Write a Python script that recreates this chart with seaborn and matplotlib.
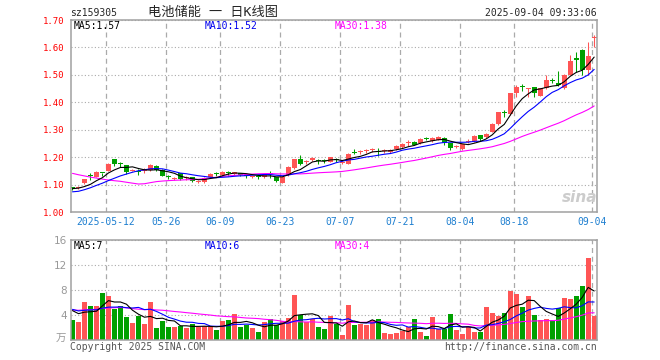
import matplotlib
matplotlib.use("Agg")
import matplotlib.pyplot as plt
import seaborn as sns
import numpy as np
import pandas as pd

# sz159305 daily K, 2025-04-29 .. 2025-09-04 (88 sessions)
opens = [1.088, 1.088, 1.105, 1.132, 1.129, 1.142, 1.150, 1.192, 1.176, 1.172,
         1.150, 1.146, 1.150, 1.153, 1.168, 1.153, 1.128, 1.122, 1.141, 1.123,
         1.127, 1.110, 1.108, 1.127, 1.140, 1.135, 1.142, 1.137, 1.142, 1.132,
         1.128, 1.128, 1.127, 1.139, 1.127, 1.107, 1.135, 1.159, 1.192, 1.181,
         1.190, 1.186, 1.186, 1.184, 1.191, 1.179, 1.176, 1.215, 1.219, 1.223,
         1.225, 1.221, 1.221, 1.218, 1.229, 1.236, 1.253, 1.257, 1.251, 1.266,
         1.259, 1.263, 1.269, 1.251, 1.237, 1.229, 1.256, 1.259, 1.279, 1.274,
         1.293, 1.320, 1.361, 1.357, 1.433, 1.455, 1.450, 1.454, 1.424, 1.451,
         1.479, 1.471, 1.451, 1.500, 1.562, 1.591, 1.518, 1.633]
highs = [1.092, 1.093, 1.121, 1.143, 1.148, 1.144, 1.177, 1.193, 1.183, 1.173,
         1.155, 1.156, 1.160, 1.176, 1.170, 1.155, 1.135, 1.128, 1.143, 1.130,
         1.129, 1.115, 1.127, 1.141, 1.145, 1.149, 1.149, 1.147, 1.143, 1.137,
         1.133, 1.133, 1.136, 1.151, 1.129, 1.131, 1.167, 1.194, 1.208, 1.188,
         1.200, 1.194, 1.192, 1.202, 1.196, 1.186, 1.214, 1.228, 1.227, 1.231,
         1.232, 1.235, 1.228, 1.229, 1.244, 1.250, 1.262, 1.259, 1.268, 1.272,
         1.273, 1.276, 1.275, 1.253, 1.243, 1.249, 1.265, 1.279, 1.281, 1.288,
         1.323, 1.366, 1.373, 1.435, 1.463, 1.467, 1.452, 1.456, 1.453, 1.498,
         1.488, 1.515, 1.502, 1.573, 1.584, 1.593, 1.621, 1.645]
lows = [1.082, 1.084, 1.103, 1.117, 1.127, 1.130, 1.148, 1.168, 1.164, 1.139,
        1.148, 1.134, 1.143, 1.151, 1.151, 1.130, 1.120, 1.118, 1.117, 1.118,
        1.108, 1.106, 1.106, 1.125, 1.132, 1.133, 1.132, 1.135, 1.133, 1.124,
        1.124, 1.120, 1.125, 1.124, 1.109, 1.105, 1.133, 1.157, 1.171, 1.176,
        1.186, 1.174, 1.178, 1.182, 1.182, 1.175, 1.174, 1.212, 1.212, 1.216,
        1.219, 1.205, 1.216, 1.215, 1.227, 1.234, 1.240, 1.243, 1.249, 1.262,
        1.257, 1.261, 1.244, 1.225, 1.232, 1.226, 1.252, 1.257, 1.259, 1.271,
        1.290, 1.317, 1.347, 1.354, 1.418, 1.440, 1.420, 1.418, 1.422, 1.449,
        1.469, 1.458, 1.449, 1.498, 1.511, 1.500, 1.500, 1.600]
closes = [1.086, 1.089, 1.119, 1.131, 1.146, 1.141, 1.175, 1.175, 1.175, 1.147,
          1.151, 1.145, 1.151, 1.170, 1.153, 1.132, 1.127, 1.123, 1.119, 1.124,
          1.112, 1.111, 1.125, 1.139, 1.139, 1.147, 1.141, 1.145, 1.135, 1.131,
          1.129, 1.127, 1.134, 1.138, 1.113, 1.129, 1.165, 1.192, 1.175, 1.182,
          1.198, 1.185, 1.185, 1.200, 1.188, 1.180, 1.212, 1.214, 1.220, 1.224,
          1.226, 1.220, 1.222, 1.225, 1.241, 1.248, 1.254, 1.245, 1.266, 1.265,
          1.269, 1.272, 1.251, 1.235, 1.238, 1.247, 1.257, 1.277, 1.266, 1.286,
          1.321, 1.364, 1.360, 1.433, 1.455, 1.454, 1.451, 1.433, 1.451, 1.482,
          1.478, 1.464, 1.500, 1.549, 1.553, 1.518, 1.570, 1.634]
volumes = [3.2, 2.88, 6.08, 5.44, 5.44, 7.52, 7.04, 4.96, 5.44, 3.68,
           2.72, 3.84, 2.56, 6.08, 1.92, 3.04, 2.08, 2.08, 2.24, 1.92,
           2.56, 2.08, 2.24, 2.08, 1.6, 3.04, 3.2, 4.16, 2.08, 2.4,
           1.92, 1.28, 2.88, 3.36, 2.4, 3.04, 3.52, 7.2, 4.0, 2.88,
           3.36, 2.08, 1.76, 3.84, 2.56, 0.8, 5.6, 2.4, 2.56, 2.4,
           3.2, 3.36, 1.12, 0.96, 1.12, 1.44, 2.08, 3.36, 1.28, 0.64,
           3.68, 1.76, 1.76, 4.16, 1.6, 0.96, 2.08, 1.28, 1.28, 5.28,
           4.32, 3.84, 4.32, 7.84, 7.36, 5.28, 7.04, 4.0, 3.2, 3.36,
           3.2, 5.12, 6.72, 6.56, 7.04, 8.64, 13.12, 3.84]

# sessions before the window, only needed so the moving averages start filled
prev_closes = [1.24, 1.25, 1.26, 1.25, 1.26, 1.27, 1.25, 1.24, 1.25, 1.25,
               1.24, 1.12, 1.05, 1.04, 1.07, 1.08, 1.09, 1.09, 1.09, 1.10,
               1.07, 1.06, 1.06, 1.06, 1.06, 1.08, 1.09, 1.09, 1.08]
prev_volumes = [4.2, 3.8, 4.5, 4.0, 3.6, 4.4, 3.9, 4.1, 5.6, 6.8,
                6.2, 5.0, 4.6, 4.8, 4.3, 4.9, 5.2, 4.7, 5.1, 5.3,
                5.4, 5.0, 4.9, 5.2, 5.0, 5.3, 4.9, 5.1, 5.0]

tick_idx = [6, 16, 25, 35, 45, 55, 65, 74, 87]
tick_labels = ["2025-05-12", "05-26", "06-09", "06-23", "07-07",
               "07-21", "08-04", "08-18", "09-04"]
price_ticks = [1.0, 1.1, 1.2, 1.3, 1.4, 1.5, 1.6, 1.7]
vol_ticks = [4, 8, 12, 16]

RED = "#ff5555"
GREEN = "#00a000"
GRID = "#aaaaaa"
FRAME = "#a0a0a0"

sns.set_style("white")
plt.rcParams["font.family"] = ["DejaVu Sans Mono", "Noto Sans CJK SC"]

df = pd.DataFrame({"open": opens, "high": highs, "low": lows,
                   "close": closes, "vol": volumes})
df["idx"] = np.arange(len(df))
n_prev = len(prev_closes)
c_all = pd.Series(prev_closes + closes)
v_all = pd.Series(prev_volumes + volumes)
for n in (5, 10, 30):
    df[f"ma{n}"] = c_all.rolling(n).mean().iloc[n_prev:].to_numpy()
    df[f"vma{n}"] = v_all.rolling(n).mean().iloc[n_prev:].to_numpy()
colors = np.where(df["close"] >= df["open"], RED, GREEN)

W, H = 660, 360
fig = plt.figure(figsize=(W / 100, H / 100), dpi=100)


def box(l, t, r, b):
    return [l / W, 1 - b / H, (r - l) / W, (b - t) / H]


ax = fig.add_axes(box(71, 20, 597, 212))
axv = fig.add_axes(box(71, 240, 597, 340))

# candles
ax.vlines(df["idx"], df["low"], df["high"], colors=colors, linewidth=0.75, zorder=2)
body = (df["close"] - df["open"]).abs().clip(lower=0.0036)
ax.bar(df["idx"], body, bottom=df[["open", "close"]].min(axis=1), width=0.84,
       color=colors, linewidth=0, zorder=3)
axv.bar(df["idx"], df["vol"], width=0.84, color=colors, linewidth=0, zorder=2)

for a, pre in ((ax, "ma"), (axv, "vma")):
    for n, col in ((30, "#ff00ff"), (10, "#0000ff"), (5, "black")):
        sns.lineplot(data=df, x="idx", y=f"{pre}{n}", color=col, linewidth=0.8,
                     ax=a, legend=False, zorder=4)
    a.set_xlabel("")
    a.set_ylabel("")
    a.set_xlim(-0.25, 87.47)
    a.set_xticks([i - 0.4 for i in tick_idx])
    a.grid(axis="x", color=GRID, linestyle=(0, (4, 3)), linewidth=0.9)
    a.grid(axis="y", color=GRID, linestyle=(0, (1, 2)), linewidth=0.8)
    a.tick_params(length=0)
    for s in a.spines.values():
        s.set_color(FRAME)
        s.set_linewidth(1.1)
        s.set_zorder(6)

ax.set_ylim(1.0, 1.7)
ax.set_yticks(price_ticks)
ax.set_yticklabels([f"{p:.2f}" for p in price_ticks])
ax.tick_params(axis="y", colors="red", labelsize=6.5, pad=5)
ax.set_xticklabels(tick_labels)
ax.tick_params(axis="x", colors="#1e7fd0", labelsize=7, pad=3.5)

axv.set_ylim(0, 16)
axv.set_yticks(vol_ticks)
axv.set_yticklabels([str(v) for v in vol_ticks], family="DejaVu Sans")
axv.tick_params(axis="y", colors="#999999", labelsize=7.5, pad=3)
axv.set_xticklabels([])


def txt(x, y, s, **kw):
    kw.setdefault("fontsize", 7)
    kw.setdefault("va", "center")
    fig.text(x / W, 1 - y / H, s, **kw)


txt(70, 13, "sz159305")
txt(213, 12, "电池储能 一 日K线图", ha="center", fontsize=9.5,
    family=["DejaVu Sans Mono", "Noto Sans CJK SC"])
txt(597, 13, "2025-09-04 09:33:06", ha="right")

txt(74, 26, "MA5:1.57", color="black")
txt(205, 26, "MA10:1.52", color="#0000ee")
txt(335, 26, "MA30:1.38", color="#ff00ff")
txt(74, 246, "MA5:7", color="black")
txt(205, 246, "MA10:6", color="#0000ee")
txt(335, 246, "MA30:4", color="#ff00ff")

txt(66, 339, "万", ha="right", color="#999999", fontsize=7.5,
    family=["Noto Sans CJK SC", "DejaVu Sans"])
txt(70, 347, "Copyright 2025 SINA.COM", color="#555555")
txt(597, 347, "http://finance.sina.com.cn", ha="right", color="#555555")
txt(580, 197, "sina", ha="center", color="#cccccc", fontsize=11,
    style="italic", weight="bold", family="DejaVu Sans")

fig.savefig("out.png", dpi=100)
